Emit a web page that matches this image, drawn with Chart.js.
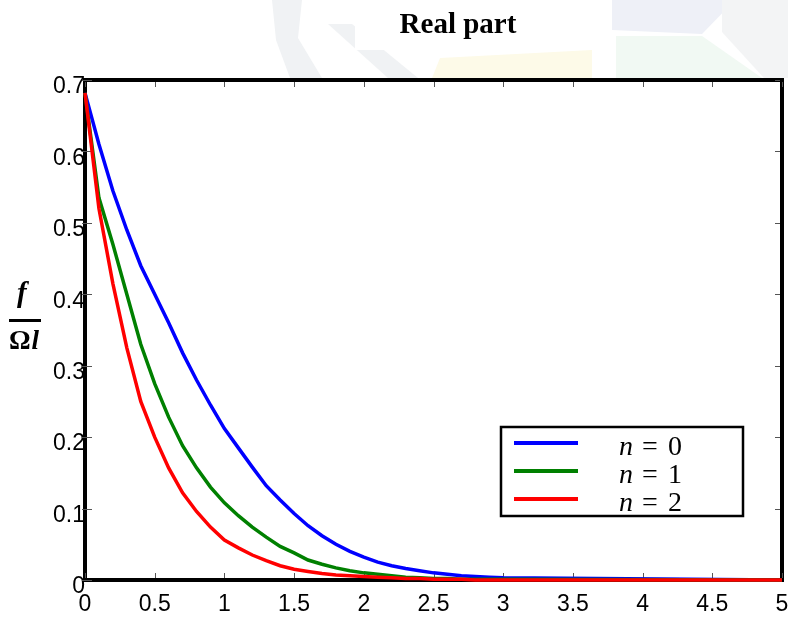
<!DOCTYPE html>
<html>
<head>
<meta charset="utf-8">
<script src="https://cdn.jsdelivr.net/npm/chart.js@4.4.1/dist/chart.umd.min.js"></script>
<style>
  html, body { margin: 0; padding: 0; background: #fff; }
  #wrap { width: 788px; height: 619px; }
</style>
</head>
<body>
<div id="wrap"><canvas id="realPart" width="788" height="619"></canvas></div>
<script>
// sample positions (shared by all three curves)
const xs = [0, 0.1, 0.2, 0.3, 0.4, 0.5, 0.6, 0.7, 0.8, 0.9, 1.0,
            1.1, 1.2, 1.3, 1.4, 1.5, 1.6, 1.7, 1.8, 1.9, 2.0,
            2.1, 2.2, 2.3, 2.4, 2.5, 2.6, 2.7, 2.8, 2.9, 3.0, 5];

// f / (Omega l), real part, for n = 0, 1, 2
const realN0 = [0.682, 0.61, 0.545, 0.49, 0.44, 0.40, 0.36, 0.318, 0.28, 0.245, 0.212,
                0.185, 0.158, 0.132, 0.112, 0.093, 0.076, 0.062, 0.050, 0.040, 0.032,
                0.025, 0.020, 0.016, 0.013, 0.010, 0.008, 0.006, 0.005, 0.004, 0.003, 0];
const realN1 = [0.682, 0.535, 0.47, 0.40, 0.33, 0.275, 0.228, 0.188, 0.157, 0.13, 0.108,
                0.09, 0.074, 0.06, 0.047, 0.038, 0.028, 0.022, 0.017, 0.013, 0.010,
                0.008, 0.006, 0.004, 0.003, 0.002, 0.002, 0.001, 0.001, 0.001, 0.001, 0];
const realN2 = [0.682, 0.52, 0.415, 0.325, 0.25, 0.20, 0.157, 0.122, 0.096, 0.074, 0.056,
                0.045, 0.035, 0.027, 0.020, 0.015, 0.012, 0.009, 0.007, 0.006, 0.005,
                0.004, 0.003, 0.002, 0.002, 0.001, 0.001, 0.001, 0, 0, 0, 0];

const nValues = ["0", "1", "2"];
const lineColors = ["#0000ff", "#008000", "#ff0000"];

const xTicks = [0, 0.5, 1, 1.5, 2, 2.5, 3, 3.5, 4, 4.5, 5];
const yTicks = [0, 0.1, 0.2, 0.3, 0.4, 0.5, 0.6, 0.7];

const toPoints = ys => xs.map((x, i) => ({ x: x, y: ys[i] }));

// faint logo behind the header
const backdrop = {
  id: "backdrop",
  beforeDraw(chart) {
    const ctx = chart.ctx;
    ctx.save();
    ctx.fillStyle = "#fff";
    ctx.fillRect(0, 0, chart.width, chart.height);
    const poly = (color, pts) => {
      ctx.fillStyle = color;
      ctx.beginPath();
      pts.forEach((p, i) => (i ? ctx.lineTo(p[0], p[1]) : ctx.moveTo(p[0], p[1])));
      ctx.closePath();
      ctx.fill();
    };
    poly("#f0f2f4", [[272, 0], [302, 0], [298, 38], [322, 78], [290, 78], [276, 40]]);
    poly("#f0f2f4", [[328, 24], [352, 24], [418, 78], [388, 78]]);
    poly("#fdfae8", [[440, 58], [592, 50], [592, 78], [432, 78]]);
    poly("#eef0f7", [[612, 0], [735, 0], [702, 34], [612, 30]]);
    poly("#f1f9f3", [[616, 36], [702, 36], [762, 78], [616, 78]]);
    poly("#f3f4f5", [[722, 0], [788, 0], [788, 78], [764, 78], [722, 32]]);
    ctx.fillStyle = "#fff";
    ctx.fillRect(355, 0, 245, 50);
    ctx.restore();
  }
};

// heavy frame with inward tick marks
const frame = {
  id: "frame",
  beforeDatasetsDraw(chart) {
    const { ctx, chartArea: a, scales } = chart;
    ctx.save();
    ctx.strokeStyle = "#000";
    ctx.lineWidth = 4;
    ctx.strokeRect(a.left, a.top, a.right - a.left, a.bottom - a.top);
    ctx.strokeStyle = "#555";
    ctx.lineWidth = 1;
    ctx.beginPath();
    scales.x.ticks.forEach(t => {
      const px = Math.round(scales.x.getPixelForValue(t.value)) + 0.5;
      ctx.moveTo(px, a.bottom - 2); ctx.lineTo(px, a.bottom - 7);
      ctx.moveTo(px, a.top + 2); ctx.lineTo(px, a.top + 7);
    });
    scales.y.ticks.forEach(t => {
      const py = Math.round(scales.y.getPixelForValue(t.value)) + 0.5;
      ctx.moveTo(a.left - 3, py); ctx.lineTo(a.left + 7, py);
      ctx.moveTo(a.right - 2, py); ctx.lineTo(a.right - 7, py);
    });
    ctx.stroke();
    ctx.restore();
  }
};

// title, fraction-style y label and the boxed legend
const annotations = {
  id: "annotations",
  afterDraw(chart) {
    const ctx = chart.ctx;
    ctx.save();
    ctx.fillStyle = "#000";
    ctx.textBaseline = "alphabetic";

    ctx.font = "bold 29px 'Liberation Serif'";
    ctx.textAlign = "center";
    ctx.fillText("Real part", 458, 33);

    ctx.textAlign = "left";
    ctx.font = "bold italic 29px 'Liberation Serif'";
    ctx.fillText("f", 17, 302);
    ctx.fillRect(9, 319, 32, 3);
    ctx.font = "bold 27px 'Liberation Serif'";
    ctx.fillText("Ω", 9, 349);
    const w = ctx.measureText("Ω").width;
    ctx.font = "bold italic 27px 'Liberation Serif'";
    ctx.fillText("l", 9 + w + 1, 349);

    // legend box
    ctx.strokeStyle = "#000";
    ctx.lineWidth = 2.5;
    ctx.strokeRect(501, 427, 242, 89);
    chart.data.datasets.forEach((ds, i) => {
      const y = 443 + i * 28;
      ctx.strokeStyle = ds.borderColor;
      ctx.lineWidth = 4;
      ctx.beginPath();
      ctx.moveTo(514, y);
      ctx.lineTo(578, y);
      ctx.stroke();
      ctx.font = "italic 28px 'Liberation Serif'";
      ctx.fillText("n", 619, y + 12);
      ctx.font = "28px 'Liberation Serif'";
      ctx.fillText("=", 642, y + 12);
      ctx.fillText(nValues[i], 668, y + 12);
    });
    ctx.restore();
  }
};

new Chart(document.getElementById("realPart"), {
  type: "line",
  data: {
    datasets: [realN0, realN1, realN2].map((ys, i) => ({
      label: "n = " + nValues[i],
      data: toPoints(ys),
      borderColor: lineColors[i],
      borderWidth: 3.5,
      pointRadius: 0,
      tension: 0,
      fill: false,
      clip: false,
      order: 2 - i // red ends up on top
    }))
  },
  options: {
    responsive: false,
    animation: false,
    devicePixelRatio: 1,
    layout: { padding: { top: 80, right: 6, left: 0, bottom: 0 } },
    plugins: { legend: { display: false }, title: { display: false }, tooltip: { enabled: false } },
    scales: {
      x: {
        type: "linear",
        min: 0,
        max: 5,
        grid: { display: false, drawTicks: false },
        border: { display: false },
        afterBuildTicks: s => { s.ticks = xTicks.map(v => ({ value: v })); },
        afterFit: s => { s.height = 39; s.paddingLeft = 0; s.paddingRight = 0; },
        ticks: {
          color: "#000",
          font: { family: "'Liberation Sans'", size: 23 },
          padding: 11,
          maxRotation: 0,
          autoSkip: false,
          callback: v => String(v)
        }
      },
      y: {
        type: "linear",
        min: 0,
        max: 0.7,
        grid: { display: false, drawTicks: false },
        border: { display: false },
        afterBuildTicks: s => { s.ticks = yTicks.map(v => ({ value: v })); },
        afterFit: s => { s.width = 85; s.paddingTop = 0; s.paddingBottom = 0; },
        ticks: {
          color: "#000",
          font: { family: "'Liberation Sans'", size: 23 },
          padding: 0,
          labelOffset: 7,
          autoSkip: false,
          callback: v => String(v)
        }
      }
    }
  },
  plugins: [backdrop, frame, annotations]
});
</script>
</body>
</html>
